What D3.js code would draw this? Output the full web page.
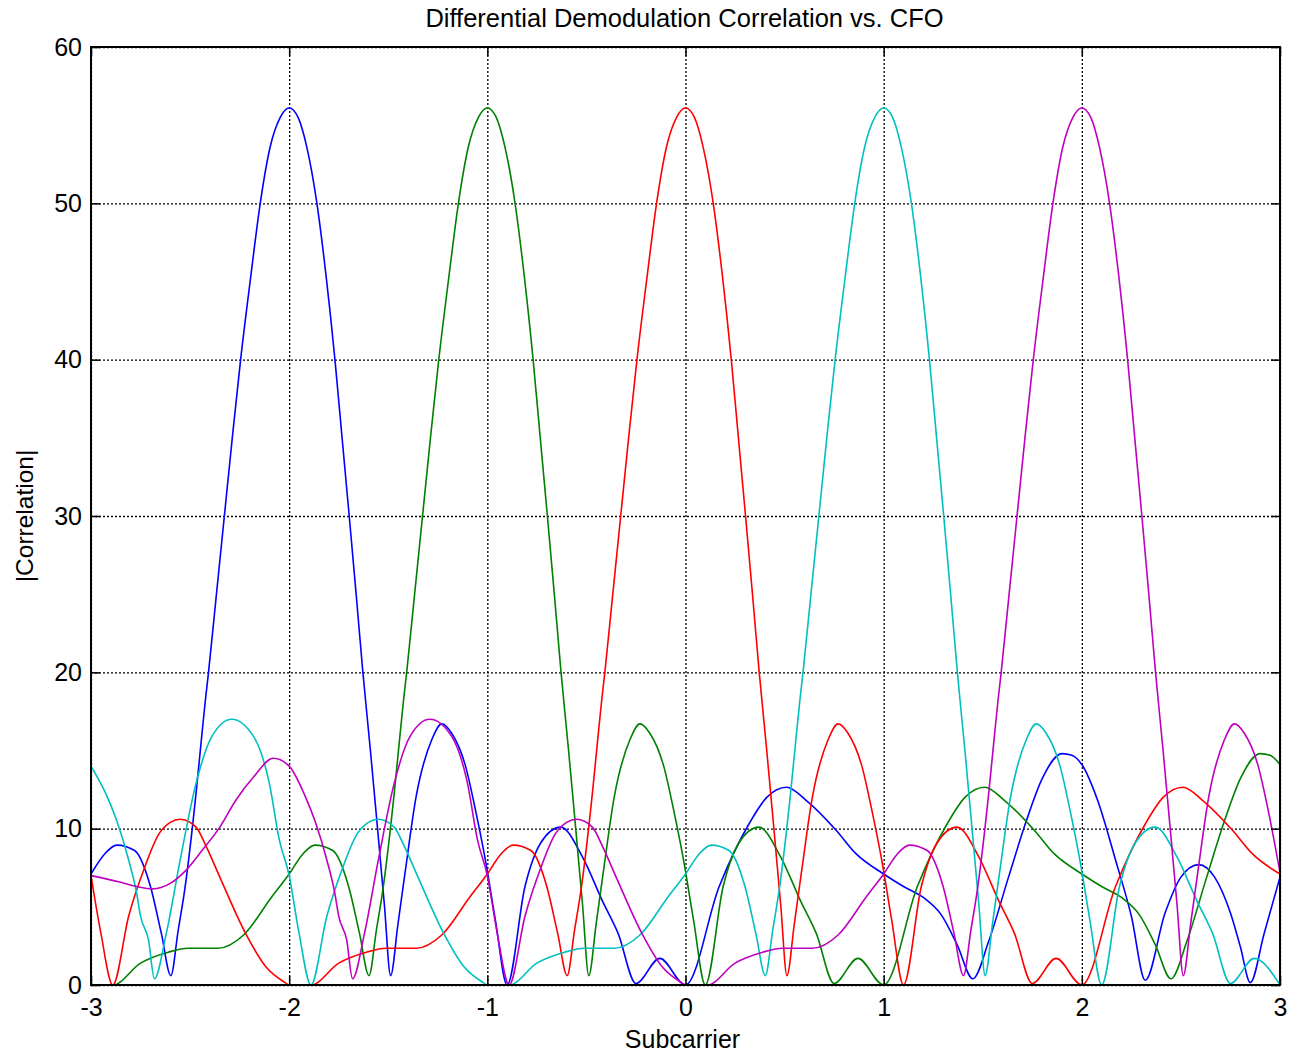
<!DOCTYPE html>
<html>
<head>
<meta charset="utf-8">
<script src="https://cdn.jsdelivr.net/npm/d3@7"></script>
<style>
  body { margin: 0; background: #fff; }
  svg { display: block; }
  text { font-family: "Liberation Sans", Arial, Helvetica, sans-serif; fill: #000; }
</style>
</head>
<body>
<div id="chart"></div>
<script>
// ---------- data ----------
const chartTitle = "Differential Demodulation Correlation vs. CFO";
const xLabel = "Subcarrier";
const yLabel = "|Correlation|";
const xTicks = [-3, -2, -1, 0, 1, 2, 3];
const yTicks = [0, 10, 20, 30, 40, 50, 60];
const xTickLabels = ["-3", "-2", "-1", "0", "1", "2", "3"];
const yTickLabels = ["0", "10", "20", "30", "40", "50", "60"];
const seriesNames = ["blue", "green", "red", "cyan", "magenta"];
const seriesColors = ["#0000ff", "#008000", "#ff0000", "#00bfbf", "#bf00bf"];

const blueSeries = [
  [-3.00,7.1],[-2.93,8.4],[-2.87,8.95],[-2.78,8.6],[-2.70,6.3],[-2.645,3.3],[-2.597,0.6],[-2.56,3.5],[-2.527,6.1],
  [-2.468,12.5],[-2.443,15.7],[-2.423,18.2],[-2.407,20],[-2.367,25],[-2.327,30],[-2.287,35],[-2.245,40],
  [-2.195,45.2],[-2.146,50],[-2.096,53.6],[-2.045,55.5],[-2.000,56.1],[-1.955,55.5],[-1.911,53.6],[-1.860,50],[-1.815,45.5],
  [-1.769,40],[-1.733,35],[-1.697,30],[-1.662,25],[-1.628,20],[-1.590,15],[-1.554,10],[-1.520,5.2],[-1.488,0.6],
  [-1.451,3.9],[-1.415,7.2],[-1.36,12.0],[-1.28,15.7],[-1.23,16.7],[-1.18,16.1],[-1.11,14.0],[-1.06,11.2],[-1.01,8.0],
  [-0.96,4.2],[-0.90,0.0],[-0.81,6.3],[-0.73,9.1],[-0.63,10.1],[-0.52,8.2],[-0.42,5.4],[-0.34,3.3],[-0.25,0.1],[-0.13,1.7],
  [0.00,0.0],[0.17,6.3],[0.32,10.3],[0.41,12.0],[0.51,12.65],[0.61,11.8],[0.76,9.9],[0.86,8.4],[1.00,7.1],[1.10,6.3],
  [1.20,5.6],[1.29,4.5],[1.37,2.6],[1.45,0.4],[1.53,2.8],[1.63,6.9],[1.72,10.5],[1.80,13.2],[1.90,14.8],[1.95,14.7],
  [2.00,14.1],[2.08,11.8],[2.17,8.0],[2.25,4.4],[2.32,0.3],[2.42,4.6],[2.50,6.9],[2.59,7.7],[2.67,6.9],[2.75,4.6],
  [2.80,2.45],[2.85,0.15],[2.92,3.3],[3.00,6.9]
];

const greenSeries = [
  [-3.00,0.0],[-2.89,0.0],[-2.75,1.4],[-2.61,2.1],[-2.51,2.35],[-2.36,2.35],[-2.23,3.2],[-2.09,5.6],[-2.00,7.1],
  [-1.93,8.4],[-1.87,8.95],[-1.78,8.6],[-1.70,6.3],[-1.645,3.3],[-1.597,0.6],[-1.56,3.5],[-1.527,6.1],[-1.468,12.5],
  [-1.443,15.7],[-1.423,18.2],[-1.407,20],[-1.367,25],[-1.327,30],[-1.287,35],[-1.245,40],[-1.195,45.2],
  [-1.146,50],[-1.096,53.6],[-1.045,55.5],[-1.000,56.1],[-0.955,55.5],[-0.911,53.6],[-0.860,50],[-0.815,45.5],[-0.769,40],
  [-0.733,35],[-0.697,30],[-0.662,25],[-0.628,20],[-0.590,15],[-0.554,10],[-0.520,5.2],[-0.488,0.6],[-0.451,3.9],
  [-0.415,7.2],[-0.36,12.0],[-0.28,15.7],[-0.23,16.7],[-0.18,16.1],[-0.11,14.0],[-0.06,11.2],[-0.01,8.0],[0.04,4.2],
  [0.10,0.0],[0.19,6.3],[0.27,9.1],[0.37,10.1],[0.48,8.2],[0.58,5.4],[0.66,3.3],[0.75,0.1],[0.87,1.7],[1.00,0.0],
  [1.17,6.3],[1.32,10.3],[1.41,12.0],[1.51,12.65],[1.61,11.8],[1.76,9.9],[1.86,8.4],[2.00,7.1],[2.10,6.3],[2.20,5.6],
  [2.29,4.5],[2.37,2.6],[2.45,0.4],[2.53,2.8],[2.63,6.9],[2.72,10.5],[2.80,13.2],[2.90,14.8],[2.95,14.7],[3.00,14.1]
];

const redSeries = [
  [-3.00,7.0],[-2.95,3.3],[-2.89,0.0],[-2.81,4.4],[-2.73,7.5],[-2.66,9.6],[-2.60,10.4],[-2.55,10.6],[-2.47,10.1],
  [-2.42,8.9],[-2.35,6.9],[-2.22,3.3],[-2.12,1.2],[-2.02,0.15],[-2.00,0.0],[-1.89,0.0],[-1.75,1.4],[-1.61,2.1],
  [-1.51,2.35],[-1.36,2.35],[-1.23,3.2],[-1.09,5.6],[-1.00,7.1],[-0.93,8.4],[-0.87,8.95],[-0.78,8.6],[-0.70,6.3],
  [-0.645,3.3],[-0.597,0.6],[-0.56,3.5],[-0.527,6.1],[-0.468,12.5],[-0.443,15.7],[-0.423,18.2],[-0.407,20],[-0.367,25],
  [-0.327,30],[-0.287,35],[-0.245,40],[-0.195,45.2],[-0.146,50],[-0.096,53.6],[-0.045,55.5],[0.000,56.1],
  [0.045,55.5],[0.089,53.6],[0.140,50],[0.185,45.5],[0.231,40],[0.267,35],[0.303,30],[0.338,25],[0.372,20],[0.410,15],
  [0.446,10],[0.480,5.2],[0.512,0.6],[0.549,3.9],[0.585,7.2],[0.64,12.0],[0.72,15.7],[0.77,16.7],[0.82,16.1],[0.89,14.0],
  [0.94,11.2],[0.99,8.0],[1.04,4.2],[1.10,0.0],[1.19,6.3],[1.27,9.1],[1.37,10.1],[1.48,8.2],[1.58,5.4],[1.66,3.3],
  [1.75,0.1],[1.87,1.7],[2.00,0.0],[2.17,6.3],[2.32,10.3],[2.41,12.0],[2.51,12.65],[2.61,11.8],[2.76,9.9],[2.86,8.4],[3.00,7.1]
];

const cyanSeries = [
  [-3.00,14.0],[-2.92,12.1],[-2.87,10.5],[-2.81,8.0],[-2.77,5.9],[-2.75,4.4],[-2.71,2.9],[-2.68,0.4],[-2.62,3.3],
  [-2.55,8.0],[-2.47,12.9],[-2.39,15.9],[-2.29,17.0],[-2.18,15.9],[-2.10,12.9],[-2.05,9.3],[-2.00,7.0],[-1.95,3.3],
  [-1.89,0.0],[-1.81,4.4],[-1.73,7.5],[-1.66,9.6],[-1.60,10.4],[-1.55,10.6],[-1.47,10.1],[-1.42,8.9],[-1.35,6.9],
  [-1.22,3.3],[-1.12,1.2],[-1.02,0.15],[-1.00,0.0],[-0.89,0.0],[-0.75,1.4],[-0.61,2.1],[-0.51,2.35],[-0.36,2.35],
  [-0.23,3.2],[-0.09,5.6],[0.00,7.1],[0.07,8.4],[0.13,8.95],[0.22,8.6],[0.30,6.3],[0.355,3.3],[0.403,0.6],[0.44,3.5],
  [0.473,6.1],[0.532,12.5],[0.557,15.7],[0.577,18.2],[0.593,20],[0.633,25],[0.673,30],[0.713,35],[0.755,40],
  [0.805,45.2],[0.854,50],[0.904,53.6],[0.955,55.5],[1.000,56.1],[1.045,55.5],[1.089,53.6],[1.140,50],[1.185,45.5],
  [1.231,40],[1.267,35],[1.303,30],[1.338,25],[1.372,20],[1.410,15],[1.446,10],[1.480,5.2],[1.512,0.6],[1.549,3.9],
  [1.585,7.2],[1.64,12.0],[1.72,15.7],[1.77,16.7],[1.82,16.1],[1.89,14.0],[1.94,11.2],[1.99,8.0],[2.04,4.2],[2.10,0.0],
  [2.19,6.3],[2.27,9.1],[2.37,10.1],[2.48,8.2],[2.58,5.4],[2.66,3.3],[2.75,0.1],[2.87,1.7],[3.00,0.0]
];

const magentaSeries = [
  [-3.00,7.0],[-2.86,6.6],[-2.77,6.3],[-2.69,6.15],[-2.60,6.5],[-2.52,7.35],[-2.44,8.6],[-2.35,10.1],[-2.27,11.8],
  [-2.18,13.3],[-2.08,14.5],[-2.00,14.0],[-1.92,12.1],[-1.87,10.5],[-1.81,8.0],[-1.77,5.9],[-1.75,4.4],[-1.71,2.9],
  [-1.68,0.4],[-1.62,3.3],[-1.55,8.0],[-1.47,12.9],[-1.39,15.9],[-1.29,17.0],[-1.18,15.9],[-1.10,12.9],[-1.05,9.3],
  [-1.00,7.0],[-0.95,3.3],[-0.89,0.0],[-0.81,4.4],[-0.73,7.5],[-0.66,9.6],[-0.60,10.4],[-0.55,10.6],[-0.47,10.1],
  [-0.42,8.9],[-0.35,6.9],[-0.22,3.3],[-0.12,1.2],[-0.02,0.15],[0.00,0.0],[0.11,0.0],[0.25,1.4],[0.39,2.1],[0.49,2.35],
  [0.64,2.35],[0.77,3.2],[0.91,5.6],[1.00,7.1],[1.07,8.4],[1.13,8.95],[1.22,8.6],[1.30,6.3],[1.355,3.3],[1.403,0.6],
  [1.44,3.5],[1.473,6.1],[1.532,12.5],[1.557,15.7],[1.577,18.2],[1.593,20],[1.633,25],[1.673,30],[1.713,35],[1.755,40],
  [1.805,45.2],[1.854,50],[1.904,53.6],[1.955,55.5],[2.000,56.1],[2.045,55.5],[2.089,53.6],[2.140,50],
  [2.185,45.5],[2.231,40],[2.267,35],[2.303,30],[2.338,25],[2.372,20],[2.410,15],[2.446,10],[2.480,5.2],[2.512,0.6],
  [2.549,3.9],[2.585,7.2],[2.64,12.0],[2.72,15.7],[2.77,16.7],[2.82,16.1],[2.89,14.0],[2.94,11.2],[3.00,7.2]
];

// ---------- layout ----------
const W = 1289, H = 1054;
const margin = { left: 91, top: 47, right: 9, bottom: 69 };
const plotW = W - margin.left - margin.right;   // 1189
const plotH = H - margin.top - margin.bottom;   // 938

const svg = d3.select("#chart").append("svg")
  .attr("width", W).attr("height", H)
  .style("background", "#fff");

svg.append("rect").attr("width", W).attr("height", H).attr("fill", "#fff");

const x = d3.scaleLinear().domain([-3, 3]).range([0, plotW]);
const y = d3.scaleLinear().domain([0, 60]).range([plotH, 0]);

const g = svg.append("g").attr("transform", `translate(${margin.left},${margin.top})`);

// grid lines (dotted)
const gridX = g.append("g").attr("class", "grid-x")
  .call(d3.axisBottom(x).tickValues(xTicks).tickSize(plotH).tickFormat(""));
gridX.select(".domain").remove();
gridX.selectAll("line").attr("stroke", "#000").attr("stroke-width", 1.3).attr("stroke-dasharray", "2,2");

const gridY = g.append("g").attr("class", "grid-y")
  .call(d3.axisRight(y).tickValues(yTicks).tickSize(plotW).tickFormat(""));
gridY.select(".domain").remove();
gridY.selectAll("line").attr("stroke", "#000").attr("stroke-width", 1.3).attr("stroke-dasharray", "2,2");

// data lines
const line = d3.line()
  .x(d => x(d[0]))
  .y(d => y(d[1]))
  .curve(d3.curveMonotoneX);

const allSeries = [blueSeries, greenSeries, redSeries, cyanSeries, magentaSeries];
const clip = svg.append("defs").append("clipPath").attr("id", "plotclip");
clip.append("rect").attr("x", 0).attr("y", -2).attr("width", plotW).attr("height", plotH + 2);

const linesG = g.append("g").attr("clip-path", "url(#plotclip)");
allSeries.forEach((s, i) => {
  linesG.append("path")
    .datum(s)
    .attr("class", "series " + seriesNames[i])
    .attr("fill", "none")
    .attr("stroke", seriesColors[i])
    .attr("stroke-width", 1.6)
    .attr("stroke-linejoin", "round")
    .attr("d", line);
});

// axes with inward ticks
const tickLen = 9;
const fontSize = 25;

const xAxisB = g.append("g").attr("transform", `translate(0,${plotH})`)
  .call(d3.axisBottom(x).tickValues(xTicks).tickSizeInner(-tickLen).tickSizeOuter(0).tickPadding(14)
    .tickFormat((d, i) => xTickLabels[i]));
const xAxisT = g.append("g")
  .call(d3.axisTop(x).tickValues(xTicks).tickSizeInner(-tickLen).tickSizeOuter(0).tickFormat(""));
const yAxisL = g.append("g")
  .call(d3.axisLeft(y).tickValues(yTicks).tickSizeInner(-tickLen).tickSizeOuter(0).tickPadding(9)
    .tickFormat((d, i) => yTickLabels[i]));
const yAxisR = g.append("g").attr("transform", `translate(${plotW},0)`)
  .call(d3.axisRight(y).tickValues(yTicks).tickSizeInner(-tickLen).tickSizeOuter(0).tickFormat(""));

[xAxisB, xAxisT, yAxisL, yAxisR].forEach(a => {
  a.select(".domain").remove();
  a.selectAll("line").attr("stroke", "#000").attr("stroke-width", 1.5);
  a.selectAll("text")
    .style("font-family", '"Liberation Sans", Arial, Helvetica, sans-serif')
    .style("font-size", fontSize + "px")
    .attr("fill", "#000");
});
xAxisB.selectAll("text").attr("dy", "0.68em");

// box
g.append("rect")
  .attr("x", 0).attr("y", 0).attr("width", plotW).attr("height", plotH)
  .attr("fill", "none").attr("stroke", "#000").attr("stroke-width", 2);

// title and labels
svg.append("text")
  .attr("x", margin.left + plotW / 2 - 1).attr("y", 27)
  .attr("text-anchor", "middle")
  .style("font-size", "25.5px")
  .text(chartTitle);

svg.append("text")
  .attr("x", margin.left + plotW / 2 - 3).attr("y", 1048)
  .attr("text-anchor", "middle")
  .style("font-size", "25px")
  .text(xLabel);

svg.append("text")
  .attr("transform", `translate(33,${margin.top + plotH / 2}) rotate(-90)`)
  .attr("text-anchor", "middle")
  .style("font-size", "24.5px")
  .text(yLabel);
</script>
</body>
</html>
